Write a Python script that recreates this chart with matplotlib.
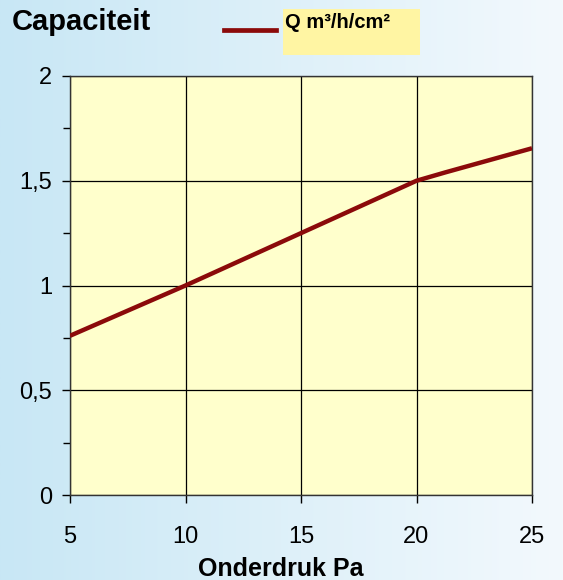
import numpy as np
import matplotlib
matplotlib.use("Agg")
import matplotlib.pyplot as plt
from matplotlib.lines import Line2D

plt.rcParams['font.family'] = ['Liberation Sans', 'DejaVu Sans']

onderdruk = [5, 10, 15, 19, 20, 21.25, 25]
capaciteit = [0.76, 1.0, 1.25, 1.45, 1.5, 1.54, 1.655]
x_ticks = [5, 10, 15, 20, 25]
y_ticks = [0, 0.5, 1, 1.5, 2]
y_labels = ['0', '0,5', '1', '1,5', '2']

fig = plt.figure(figsize=(5.63, 5.80), dpi=100)

# background gradient
bg = fig.add_axes([0, 0, 1, 1], zorder=-10)
grad = np.linspace(0, 1, 256)[None, :]
c_left = np.array([200, 231, 245]) / 255
c_right = np.array([243, 249, 253]) / 255
img = c_left[None, None, :] * (1 - grad[..., None]) + c_right[None, None, :] * grad[..., None]
bg.imshow(img, aspect='auto', extent=[0, 1, 0, 1])
bg.axis('off')

ax = fig.add_axes([70/563, 1 - 495/580, 462/563, 419/580])
ax.set_facecolor('#ffffcc')
ax.plot(onderdruk, capaciteit, color='#8b0a0a', lw=3.2, solid_capstyle='butt', zorder=3)
ax.set_xlim(5, 25)
ax.set_ylim(0, 2)
ax.set_xticks(x_ticks)
ax.set_xticklabels([str(t) for t in x_ticks])
ax.set_yticks(y_ticks)
ax.set_yticklabels(y_labels)
ax.set_yticks(np.arange(0, 2.01, 0.25), minor=True)
ax.grid(True, which='major', color='black', lw=0.9)
ax.tick_params(axis='both', which='major', direction='out', length=6, width=1, labelsize=17)
ax.tick_params(axis='x', which='major', pad=16)
ax.tick_params(axis='y', which='major', pad=7)
ax.tick_params(axis='y', which='minor', direction='out', length=5, width=1)
for s in ax.spines.values():
    s.set_color('#333333')
    s.set_linewidth(1.0)
ax.set_xlabel('Onderdruk Pa', fontsize=18, fontweight='bold')
ax.xaxis.set_label_coords((281 - 70) / 462, -(569 - 495) / 419)
ax.xaxis.label.set_va('center')

fig.text(12/563, 1 - 22/580, 'Capaciteit', fontsize=21, fontweight='bold', va='center', ha='left')

# legend
fig.add_artist(Line2D([224/563, 276/563], [1 - 29.5/580, 1 - 29.5/580], color='#8b0a0a', lw=3.4,
                      transform=fig.transFigure))
fig.patches.append(plt.Rectangle((283/563, 1 - 55/580), 137/563, 46/580, transform=fig.transFigure,
                                 facecolor='#fff5a3', edgecolor='none', zorder=0))
fig.text(285/563, 1 - 23/580, 'Q m³/h/cm²', fontsize=14.5, fontweight='bold',
         va='center', ha='left')

fig.savefig('out.png', dpi=100)
